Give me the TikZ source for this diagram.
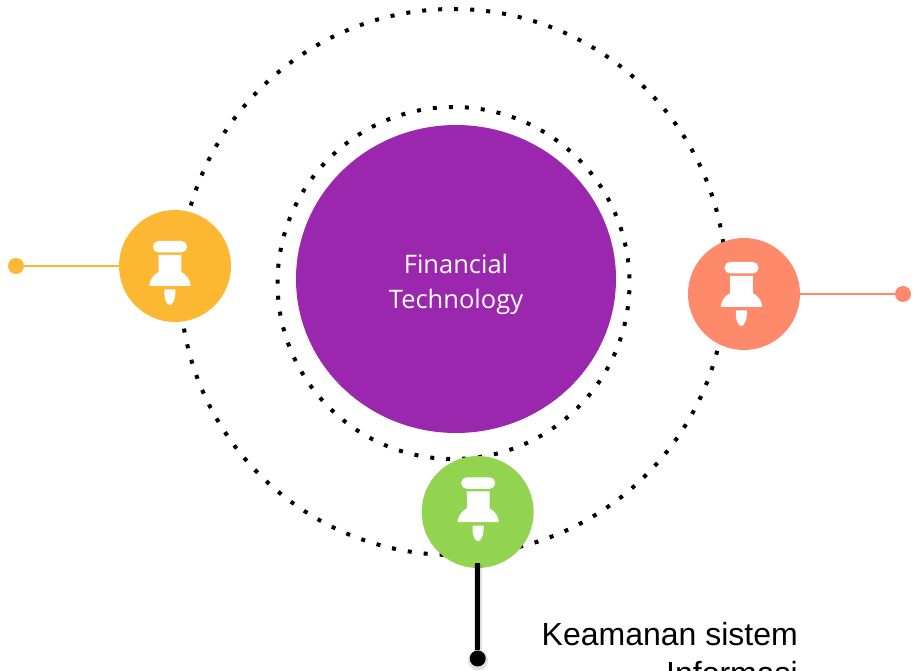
\documentclass[tikz,border=0pt]{standalone}
\usepackage{fontspec}
\usetikzlibrary{shapes.geometric}
\setmainfont{Open Sans}
\newfontfamily\lblfont{Liberation Sans}
\definecolor{pinyellow}{RGB}{253,184,51}
\definecolor{pinred}{RGB}{255,138,107}
\definecolor{pingreen}{RGB}{146,212,80}
\definecolor{corepurple}{RGB}{156,39,175}
\tikzset{
  orbit/.style={line width=4pt,dash pattern=on 4pt off 12.03pt},
  badge/.style={circle,minimum size=112pt,inner sep=0pt,outer sep=0pt,fill=#1},
  endpoint/.style={circle,minimum size=16pt,inner sep=0pt,outer sep=0pt,fill=#1},
  outlabel/.style={anchor=base east,inner sep=0pt,font=\lblfont\fontsize{32}{36}\selectfont,text=black},
  pin/.pic={
    \fill[white,rounded corners=5.5pt] (-22,25) rectangle (12,13.5);
    \fill[white] (-16.3,11) -- (6.3,11) -- (6.3,-6) .. controls (10,-8) and (14.5,-12) .. (15.7,-18.5)
      .. controls (16,-19.5) and (15.5,-19.8) .. (15,-19.8) -- (-25,-19.8)
      .. controls (-25.5,-19.8) and (-26,-19.5) .. (-25.7,-18.5)
      .. controls (-24.5,-12) and (-20,-8) .. (-16.3,-6) -- cycle;
    \fill[white] (-10.7,-23.3) -- (0.3,-23.3) -- (0.3,-28) .. controls (0.3,-33) and (-2.5,-39) .. (-5.2,-39)
      .. controls (-8,-39) and (-10.7,-33) .. (-10.7,-28) -- cycle;
  }
}
\begin{document}
\begin{tikzpicture}[x=1pt,y=1pt]
\useasboundingbox (0,0) rectangle (914,671);
\coordinate (oc) at (453,389);
\coordinate (ic) at (453.5,388);
\draw[orbit,dash phase=9.12pt] (oc) circle (273);
\draw[orbit,dash phase=11.36pt] (ic) circle (176);
\node[ellipse,fill=corepurple,minimum width=320pt,minimum height=308pt,inner sep=0pt] (core) at (456,392) {};
\node[badge=pinyellow] (y) at (175,405) {};
\node[badge=pinred] (r) at (744,377) {};
\node[badge=pingreen] (g) at (477.7,159) {};
\node[endpoint=pinyellow] (ye) at (16,405) {};
\node[endpoint=pinred] (re) at (903,377) {};
\draw[black,opacity=.12,line width=8pt] (477.7,12) -- ([yshift=4pt]g.south);
\fill[black,opacity=.12] (478,10.5) circle (10);
\node[endpoint=black] (ge) at (477.7,12.5) {};
\draw[pinyellow,line width=2.5pt] (ye) -- (y);
\draw[pinred,line width=2.5pt] (re) -- (r);
\draw[black,line width=5pt] (ge) -- ([yshift=5pt]g.south);
\pic at (y) {pin};
\pic at ([shift={(2.5,7)}]r) {pin};
\pic at ([shift={(5.5,9.7)}]g) {pin};
\node[text=white,font=\fontsize{25.5}{35}\selectfont,align=center] (t) at (456,387) {Financial\\Technology};
\node[outlabel] (k) at (798,25.5) {Keamanan sistem};
\node[outlabel] (k2) at (798,-14) {Informasi};
\end{tikzpicture}
\end{document}
